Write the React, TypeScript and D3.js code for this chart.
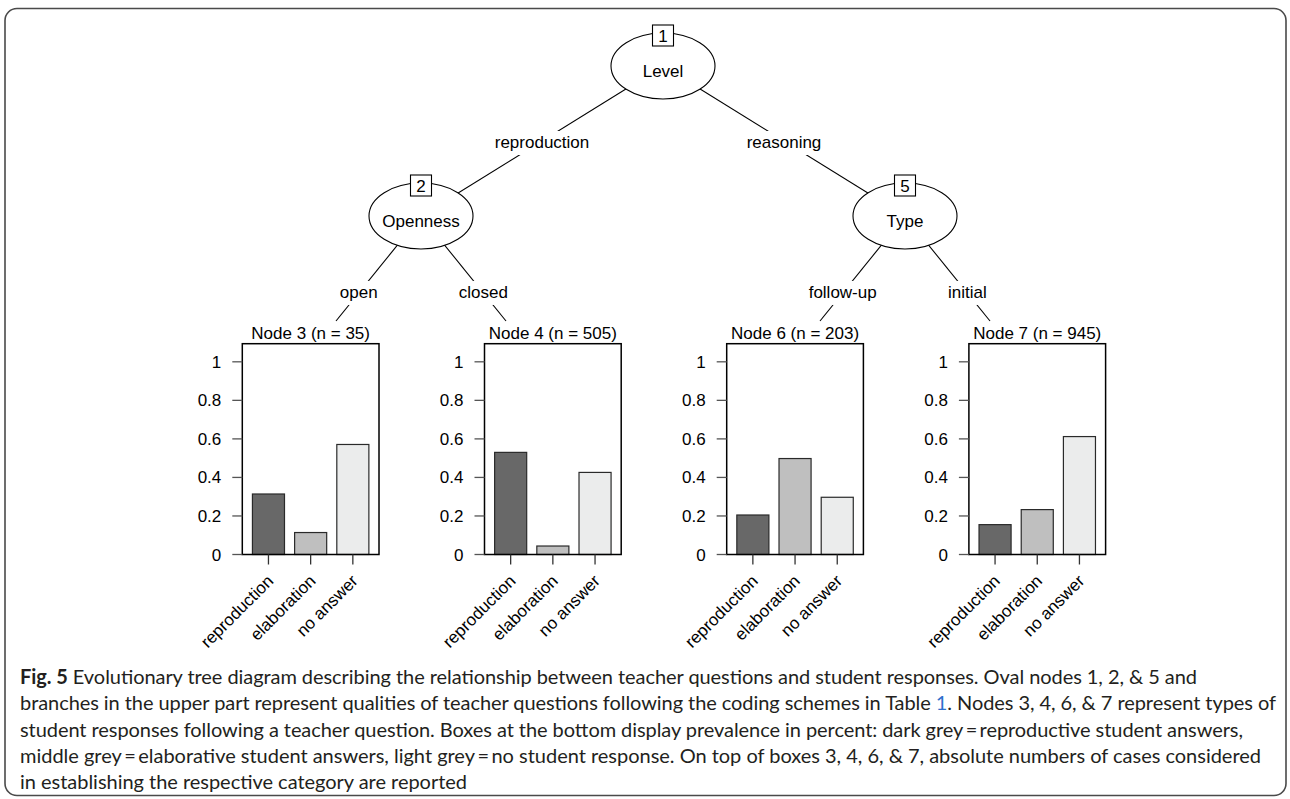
import React from "react";
import * as d3 from "d3";

// ---------- data ----------
const responseCategories = ["reproduction", "elaboration", "no answer"];
const barColors = ["#686868", "#bfbfbf", "#ebecec"];

const terminalIds = [3, 4, 6, 7];
const terminalN = [35, 505, 203, 945];
const terminalParent = [2, 2, 5, 5];
const terminalEdgeLabels = ["open", "closed", "follow-up", "initial"];
const reproductionShare = [0.314, 0.53, 0.205, 0.155];
const elaborationShare = [0.114, 0.044, 0.498, 0.233];
const noAnswerShare = [0.571, 0.426, 0.297, 0.612];

const innerIds = [1, 2, 5];
const innerLabels = ["Level", "Openness", "Type"];
const innerCol = [1, 0, 2];
const innerDepth = [0, 1, 1];
const innerParent = [0, 1, 1];
const innerEdgeLabels = ["", "reproduction", "reasoning"];

const yTicks = [0, 0.2, 0.4, 0.6, 0.8, 1];
const yTickLabels = ["0", "0.2", "0.4", "0.6", "0.8", "1"];

const captionLines = [
  "Evolutionary tree diagram describing the relationship between teacher questions and student responses. Oval nodes 1, 2, & 5 and",
  "branches in the upper part represent qualities of teacher questions following the coding schemes in Table ",
  "student responses following a teacher question. Boxes at the bottom display prevalence in percent: dark grey\u2009=\u2009reproductive student answers,",
  "middle grey\u2009=\u2009elaborative student answers, light grey\u2009=\u2009no student response. On top of boxes 3, 4, 6, & 7, absolute numbers of cases considered",
  "in establishing the respective category are reported",
];
const captionLine2Tail = ". Nodes 3, 4, 6, & 7 represent types of";
const captionEnds = [1197, 1276, 1243, 1261, 467];

// ---------- layout ----------
const W = 1290;
const H = 799;
const FONT = "'Liberation Sans', Arial, Helvetica, sans-serif";
const FS = 17;

const innerX = d3.scaleLinear().domain([0, 2]).range([421, 905]);
const innerY = d3.scaleLinear().domain([0, 1]).range([66, 216]);
const panelX = d3.scaleLinear().domain([0, 3]).range([242.3, 968.9]);
const panelW = 136.7;
const y = d3.scaleLinear().domain([0, 1.094]).range([554.5, 343.7]);
const edgeEndY = 321;
const edgeDX = 85;
const RX = 52;
const RY = 33;

let ctx: CanvasRenderingContext2D | null = null;
function textWidth(s: string, font = `${FS}px 'Liberation Sans'`) {
  if (!ctx) ctx = document.createElement("canvas").getContext("2d");
  if (!ctx) return s.length * FS * 0.5;
  ctx.font = font;
  return ctx.measureText(s).width;
}

export default function App() {
  const nodeById: Record<number, { x: number; y: number }> = {};
  innerIds.forEach((id, i) => {
    nodeById[id] = { x: innerX(innerCol[i]), y: innerY(innerDepth[i]) };
  });

  const innerEdges = innerIds
    .map((id, i) => ({ id, i }))
    .filter((d) => innerParent[d.i] !== 0)
    .map((d) => {
      const p = nodeById[innerParent[d.i]];
      const c = nodeById[d.id];
      return {
        x1: p.x,
        y1: p.y,
        x2: c.x,
        y2: c.y,
        lx: (p.x + c.x) / 2,
        ly: (p.y + c.y) / 2 + 2,
        label: innerEdgeLabels[d.i],
      };
    });

  const termEdges = terminalIds.map((id, i) => {
    const p = nodeById[terminalParent[i]];
    const side = i % 2 === 0 ? -1 : 1;
    const x2 = p.x + side * edgeDX;
    const t = 0.733;
    return {
      x1: p.x,
      y1: p.y,
      x2,
      y2: edgeEndY,
      lx: p.x + (x2 - p.x) * t,
      ly: p.y + (edgeEndY - p.y) * t,
      label: terminalEdgeLabels[i],
    };
  });

  const allEdges = [...innerEdges, ...termEdges];
  const shares = [reproductionShare, elaborationShare, noAnswerShare];

  return (
    <div style={{ position: "absolute", left: 0, top: 0 }}>
      <svg width={W} height={H} style={{ display: "block", background: "#fff" }}>
        <rect x={0} y={0} width={W} height={H} fill="#fff" />
        <rect x={5} y={8.5} width={1281} height={787} rx={12} ry={12} fill="none" stroke="#4a4a4a" strokeWidth={1.6} />

        <g stroke="#000" strokeWidth={1.1}>
          {allEdges.map((e, k) => (
            <line key={k} x1={e.x1} y1={e.y1} x2={e.x2} y2={e.y2} />
          ))}
        </g>
        <g fontFamily={FONT} fontSize={FS} textAnchor="middle">
          {allEdges.map((e, k) => {
            const w = textWidth(e.label) + 4;
            return (
              <g key={k}>
                <rect x={e.lx - w / 2} y={e.ly - 12} width={w} height={24} fill="#fff" />
                <text x={e.lx} y={e.ly + 5} fill="#000">
                  {e.label}
                </text>
              </g>
            );
          })}
        </g>

        <g fontFamily={FONT} fontSize={FS}>
          {innerIds.map((id, i) => {
            const n = nodeById[id];
            return (
              <g key={id}>
                <ellipse cx={n.x} cy={n.y} rx={RX} ry={RY} fill="#fff" stroke="#000" strokeWidth={1.1} />
                <text x={n.x} y={n.y + 11} textAnchor="middle">
                  {innerLabels[i]}
                </text>
                <rect x={n.x - 10.5} y={n.y - 41} width={21} height={21} fill="#fff" stroke="#000" strokeWidth={1.1} />
                <text x={n.x} y={n.y - 24} textAnchor="middle">
                  {id}
                </text>
              </g>
            );
          })}
        </g>

        {terminalIds.map((id, i) => {
          const left = panelX(i);
          const xb = d3
            .scaleBand<string>()
            .domain(responseCategories)
            .range([left, left + panelW])
            .paddingInner(0.24)
            .paddingOuter(0.24);
          return (
            <g key={id} fontFamily={FONT} fontSize={FS}>
              <text x={left + panelW / 2} y={339} textAnchor="middle">
                {`Node ${id} (n = ${terminalN[i]})`}
              </text>
              {responseCategories.map((c, j) => (
                <rect
                  key={c}
                  x={xb(c)}
                  y={y(shares[j][i])}
                  width={xb.bandwidth()}
                  height={y(0) - y(shares[j][i])}
                  fill={barColors[j]}
                  stroke="#2a2a2a"
                  strokeWidth={1.2}
                />
              ))}
              <rect x={left} y={y.range()[1]} width={panelW} height={y(0) - y.range()[1]} fill="none" stroke="#000" strokeWidth={1.5} />
              {yTicks.map((t, k) => (
                <g key={t}>
                  <line x1={left - 10} x2={left} y1={y(t)} y2={y(t)} stroke="#555" strokeWidth={1.3} />
                  <text x={left - 21} y={y(t) + 6} textAnchor="end">
                    {yTickLabels[k]}
                  </text>
                </g>
              ))}
              {responseCategories.map((c) => {
                const cx = (xb(c) as number) + xb.bandwidth() / 2;
                return (
                  <g key={c}>
                    <line x1={cx} x2={cx} y1={y(0)} y2={y(0) + 10} stroke="#333" strokeWidth={1.3} />
                    <text transform={`translate(${cx + 6},${582}) rotate(-45)`} textAnchor="end">
                      {c}
                    </text>
                  </g>
                );
              })}
            </g>
          );
        })}

        <g fontFamily="Lato, 'Open Sans', sans-serif" fontSize={20} fill="#231f20">
          {captionLines.map((line, k) => {
            const yy = 684 + k * 26.3;
            const len = captionEnds[k] - 20;
            if (k === 0) {
              return (
                <text key={k} x={20} y={yy} textLength={len} lengthAdjust="spacing">
                  <tspan fontWeight="bold">Fig. 5</tspan> {line}
                </text>
              );
            }
            if (k === 1) {
              return (
                <text key={k} x={20} y={yy} textLength={len} lengthAdjust="spacing">
                  {line}
                  <tspan fill="#2f6fcc">1</tspan>
                  {captionLine2Tail}
                </text>
              );
            }
            return (
              <text key={k} x={20} y={yy} textLength={len} lengthAdjust="spacing">
                {line}
              </text>
            );
          })}
        </g>
      </svg>
    </div>
  );
}
